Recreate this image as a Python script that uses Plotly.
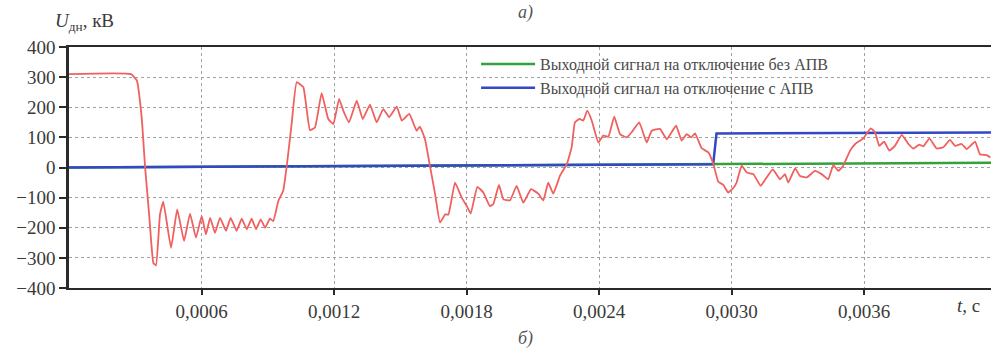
import plotly.graph_objects as go

# ---- data ----
t_signal = [0.0, 0.000281, 0.000307, 0.000329, 0.000344, 0.000364, 0.000382, 0.000394, 0.000412, 0.000427,
            0.000462, 0.000490, 0.000521, 0.000548, 0.000575, 0.000601, 0.000620, 0.000639, 0.000661, 0.000684,
            0.000711, 0.000732, 0.000759, 0.000782, 0.000805, 0.000827, 0.000847, 0.000868, 0.000888, 0.000910,
            0.000925, 0.000948, 0.000970, 0.000986, 0.001008, 0.001031, 0.001061, 0.001091, 0.001114, 0.001144,
            0.001174, 0.001197, 0.001223, 0.001242, 0.001268, 0.001303, 0.001330, 0.001363, 0.001393, 0.001423,
            0.001450, 0.001484, 0.001507, 0.001541, 0.001574, 0.001589, 0.001612, 0.001635, 0.001657, 0.001680,
            0.001703, 0.001718, 0.001748, 0.001778, 0.001801, 0.001819, 0.001849, 0.001876, 0.001906, 0.001921,
            0.001947, 0.001967, 0.001997, 0.002027, 0.002057, 0.002092, 0.002125, 0.002148, 0.002170, 0.002193,
            0.002223, 0.002254, 0.002276, 0.002291, 0.002311, 0.002329, 0.002347, 0.002367, 0.002397, 0.002419,
            0.002442, 0.002469, 0.002495, 0.002525, 0.002548, 0.002582, 0.002616, 0.002639, 0.002676, 0.002707,
            0.002749, 0.002774, 0.002797, 0.002817, 0.002835, 0.002865, 0.002895, 0.002918, 0.002940, 0.002963,
            0.002985, 0.003008, 0.003023, 0.003046, 0.003069, 0.003099, 0.003132, 0.003159, 0.003187, 0.003220,
            0.003242, 0.003257, 0.003288, 0.003310, 0.003341, 0.003378, 0.003408, 0.003438, 0.003461, 0.003484,
            0.003506, 0.003537, 0.003560, 0.003597, 0.003630, 0.003650, 0.003669, 0.003691, 0.003715, 0.003740,
            0.003771, 0.003801, 0.003823, 0.003850, 0.003869, 0.003896, 0.003929, 0.003959, 0.003989, 0.004012,
            0.004042, 0.004065, 0.004103, 0.004125, 0.004156, 0.004172]
u_signal = [310, 310, 289, 167, 7, -167, -317, -325, -156, -113,
            -267, -139, -244, -153, -233, -161, -222, -167, -217, -167,
            -210, -167, -210, -170, -205, -170, -205, -172, -200, -170,
            -178, -111, -77, 5, 144, 283, 267, 124, 133, 247,
            161, 144, 228, 189, 150, 222, 161, 209, 150, 194,
            167, 202, 156, 178, 122, 136, 94, 3, -85, -183,
            -156, -156, -50, -100, -128, -153, -64, -83, -128, -122,
            -58, -106, -109, -61, -117, -72, -87, -109, -50, -87,
            -28, 11, 67, 150, 161, 156, 189, 156, 83, 106,
            102, 169, 111, 100, 117, 150, 83, 122, 128, 94,
            139, 89, 111, 100, 113, 64, 50, 11, -47, -58,
            -83, -68, -50, 6, -17, -22, -61, -33, -6, -39,
            -22, -50, -3, -28, -33, -11, -22, -39, 8, -11,
            6, 56, 78, 97, 130, 117, 72, 86, 56, 72,
            108, 78, 63, 76, 70, 97, 63, 67, 92, 72,
            78, 61, 86, 44, 41, 33]

t_no_apv = [0.0, 0.002917, 0.00418]
u_no_apv = [0, 11, 16]

t_apv = [0.0, 0.002917, 0.002932, 0.00418]
u_apv = [0, 11, 113, 116]

x_tick_vals = [0.0006, 0.0012, 0.0018, 0.0024, 0.0030, 0.0036]
x_tick_text = ["0,0006", "0,0012", "0,0018", "0,0024", "0,0030", "0,0036"]
y_tick_vals = [-400, -300, -200, -100, 0, 100, 200, 300, 400]
y_tick_text = ["\u2212400", "\u2212300", "\u2212200", "\u2212100", "0", "100", "200", "300", "400"]

name_no_apv = "Выходной сигнал на отключение без АПВ"
name_apv = "Выходной сигнал на отключение с АПВ"

FONT = "Liberation Serif, 'Times New Roman', 'DejaVu Serif', serif"
TXT = "#3a3a3a"

fig = go.Figure()
fig.add_trace(go.Scatter(x=t_no_apv, y=u_no_apv, mode="lines", name=name_no_apv,
                         line=dict(color="#34a23a", width=2.5), legendgroup="g1"))
fig.add_trace(go.Scatter(x=t_apv, y=u_apv, mode="lines", name=name_apv,
                         line=dict(color="#3348c4", width=2.5), legendgroup="g2"))
fig.add_trace(go.Scatter(x=t_signal, y=u_signal, mode="lines", showlegend=False,
                         line=dict(color="#f0605f", width=1.8, shape="spline", smoothing=0.35)))

fig.update_layout(
    width=991, height=349,
    margin=dict(l=69, r=0, t=47, b=61),
    paper_bgcolor="white", plot_bgcolor="white",
    font=dict(family=FONT, size=18, color=TXT),
    showlegend=True,
    legend=dict(x=0.4415, y=1.0, xanchor="left", yanchor="top", itemwidth=54,
                bgcolor="rgba(0,0,0,0)", font=dict(family=FONT, size=16, color="#4a4a4a"),
                tracegroupgap=0, traceorder="grouped"),
    xaxis=dict(range=[0, 0.004175], tickvals=x_tick_vals, ticktext=x_tick_text,
               showgrid=True, gridcolor="#a0a0a0", griddash="dot", gridwidth=1,
               showline=True, linecolor="#2a2a2a", linewidth=2, mirror=True,
               ticks="outside", ticklen=5, tickcolor="#2a2a2a", tickwidth=1.5,
               zeroline=False, tickfont=dict(family=FONT, size=19, color=TXT)),
    yaxis=dict(range=[-400, 400], tickvals=y_tick_vals, ticktext=y_tick_text,
               showgrid=True, gridcolor="#a0a0a0", griddash="dot", gridwidth=1,
               showline=True, linecolor="#2a2a2a", linewidth=2.5,
               ticks="outside", ticklen=7, tickcolor="#2a2a2a", tickwidth=1.5,
               zeroline=False, tickfont=dict(family=FONT, size=19, color=TXT)),
    annotations=[
        dict(text="<i>U</i><sub>дн</sub>, кВ", xref="paper", yref="paper",
             x=-0.0176, y=1.105, xanchor="left", yanchor="middle", showarrow=False,
             font=dict(family=FONT, size=19, color=TXT)),
        dict(text="<i>t</i>, с", xref="paper", yref="paper",
             x=0.961, y=-0.072, xanchor="left", yanchor="middle", showarrow=False,
             font=dict(family=FONT, size=19, color=TXT)),
        dict(text="<i>а)</i>", xref="paper", yref="paper",
             x=0.495, y=1.195, xanchor="center", yanchor="top", showarrow=False,
             font=dict(family=FONT, size=18, color="#555555")),
        dict(text="<i>б)</i>", xref="paper", yref="paper",
             x=0.495, y=-0.2075, xanchor="center", yanchor="middle", showarrow=False,
             font=dict(family=FONT, size=18, color="#555555")),
    ],
)

fig.write_html("out.html", config={"displayModeBar": False},
               post_script="document.body.style.margin='0';")
